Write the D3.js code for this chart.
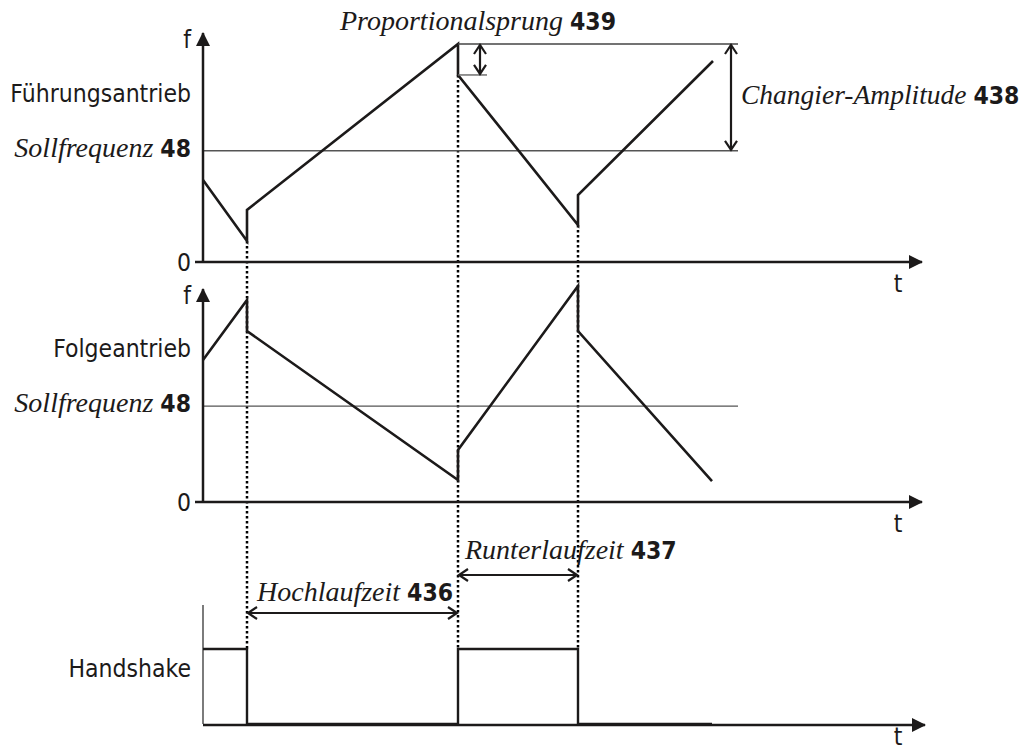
<!DOCTYPE html>
<html>
<head>
<meta charset="utf-8">
<script src="https://cdn.jsdelivr.net/npm/d3@7"></script>
<style>
  body { margin: 0; background: #fff; }
  .sans { font-family: "DejaVu Sans Condensed", "DejaVu Sans", sans-serif; font-stretch: condensed; }
  .serif { font-family: "Liberation Serif", "DejaVu Serif", serif; font-style: italic; }
</style>
</head>
<body>
<div id="chart"></div>
<script>
// time points (same time axis for all three traces)
const tSteps = [0, 44, 44, 255, 255, 375, 375, 510];
const tFolge = [0, 44, 44, 255, 255, 375, 375, 509];
const tHand = [0, 44, 44, 255, 255, 375, 375, 509];

// frequency values (% of scale)
const fFuehrung = [37.6, 9.6, 23.9, 100, 85.8, 17.0, 30.7, 92.2];
const fFolge = [65.1, 92.7, 78.4, 10.1, 23.9, 99.1, 78.4, 9.6];
const handshake = [1, 1, 0, 0, 1, 1, 0, 0];

const sollFuehrung = 51;
const sollFolge = 44;
const tSollEnd = 535;

const switchTimes = [44, 255, 375];
const panelNames = ["Führungsantrieb", "Folgeantrieb", "Handshake"];

const width = 1024, height = 751;
const ink = "#1c1a1a";
const sansSize = 24.5, serifSize = 28;

const svg = d3.select("#chart")
    .append("svg")
    .attr("width", width)
    .attr("height", height)
    .attr("viewBox", [0, 0, width, height]);

const defs = svg.append("defs");
defs.append("marker")
    .attr("id", "axisHead")
    .attr("markerUnits", "userSpaceOnUse")
    .attr("viewBox", "0 0 14 14")
    .attr("refX", 13).attr("refY", 7)
    .attr("markerWidth", 14).attr("markerHeight", 14)
    .attr("orient", "auto")
    .append("path")
    .attr("d", "M0,0L14,7L0,14Z")
    .attr("fill", ink);

defs.append("marker")
    .attr("id", "openHead")
    .attr("markerUnits", "userSpaceOnUse")
    .attr("viewBox", "-1 -1 12 14")
    .attr("refX", 9).attr("refY", 6)
    .attr("markerWidth", 12).attr("markerHeight", 14)
    .attr("orient", "auto-start-reverse")
    .append("path")
    .attr("d", "M0,0L9,6L0,12")
    .attr("fill", "none")
    .attr("stroke", ink)
    .attr("stroke-width", 2.2);

let x = d3.scaleLinear()
    .domain([0, 720])
    .range([203, 923]);

let yTop = d3.scaleLinear().domain([0, 100]).range([262, 44]);
let yMid = d3.scaleLinear().domain([0, 100]).range([502, 284]);
let yHand = d3.scaleLinear().domain([0, 1]).range([724, 649]);

let line = (y) => d3.line()
    .x(d => x(d[0]))
    .y(d => y(d[1]));

// dotted guides at switching moments
const guideTop = [yTop(fFuehrung[1]), yTop(fFuehrung[4]), yTop(fFuehrung[5])];
svg.append("g")
    .selectAll("line")
    .data(switchTimes)
    .join("line")
    .attr("x1", d => x(d)).attr("x2", d => x(d))
    .attr("y1", (d, i) => guideTop[i])
    .attr("y2", yHand(1))
    .attr("stroke", "#000")
    .attr("stroke-width", 2.5)
    .attr("stroke-dasharray", "2.5,2.5");

function sansText(g, xp, yp, anchor, txt) {
    return g.append("text").attr("class", "sans")
        .attr("x", xp).attr("y", yp)
        .attr("text-anchor", anchor).attr("font-size", sansSize).attr("fill", ink)
        .text(txt);
}

// frequency panels
function freqPanel(y, ts, fs, soll, name, fLabelY) {
    let g = svg.append("g");

    // Sollfrequenz line
    g.append("line")
        .attr("x1", x(0)).attr("x2", x(tSollEnd))
        .attr("y1", y(soll)).attr("y2", y(soll))
        .attr("stroke", "#555").attr("stroke-width", 1.4);

    // axes
    g.append("line")
        .attr("x1", x(0)).attr("x2", x(0))
        .attr("y1", y(0)).attr("y2", fLabelY - 15)
        .attr("stroke", ink).attr("stroke-width", 2.5)
        .attr("marker-end", "url(#axisHead)");
    g.append("line")
        .attr("x1", x(0) - 8).attr("x2", x(719))
        .attr("y1", y(0)).attr("y2", y(0))
        .attr("stroke", ink).attr("stroke-width", 2.5)
        .attr("marker-end", "url(#axisHead)");

    g.append("path")
        .datum(d3.zip(ts, fs))
        .attr("fill", "none")
        .attr("stroke", ink)
        .attr("stroke-width", 2.6)
        .attr("stroke-linejoin", "miter")
        .attr("d", line(y));

    sansText(g, 191, fLabelY, "end", "f");
    sansText(g, 191, y(0) + 9, "end", "0");
    sansText(g, x(695), y(0) + 30, "middle", "t");
    sansText(g, 191, y(soll) - 49, "end", name);

    let s = g.append("text")
        .attr("x", 191).attr("y", y(soll) + 6)
        .attr("text-anchor", "end").attr("fill", ink);
    s.append("tspan").attr("class", "serif").attr("font-size", serifSize).text("Sollfrequenz ");
    s.append("tspan").attr("class", "sans").attr("font-size", sansSize).attr("font-weight", "bold").text("48");
}

freqPanel(yTop, tSteps, fFuehrung, sollFuehrung, panelNames[0], 48);
freqPanel(yMid, tFolge, fFolge, sollFolge, panelNames[1], 304);

// amplitude references
svg.append("line")
    .attr("x1", x(255)).attr("x2", x(tSollEnd))
    .attr("y1", yTop(100)).attr("y2", yTop(100))
    .attr("stroke", "#444").attr("stroke-width", 1.4);
svg.append("line")
    .attr("x1", x(255)).attr("x2", x(284))
    .attr("y1", yTop(fFuehrung[4])).attr("y2", yTop(fFuehrung[4]))
    .attr("stroke", "#666").attr("stroke-width", 1.4);

svg.append("line")
    .attr("x1", x(528)).attr("x2", x(528))
    .attr("y1", yTop(100) + 1).attr("y2", yTop(sollFuehrung) - 1)
    .attr("stroke", ink).attr("stroke-width", 2.2)
    .attr("marker-start", "url(#openHead)")
    .attr("marker-end", "url(#openHead)");
svg.append("line")
    .attr("x1", x(277)).attr("x2", x(277))
    .attr("y1", yTop(100) + 1).attr("y2", yTop(fFuehrung[4]) - 1)
    .attr("stroke", ink).attr("stroke-width", 2.2)
    .attr("marker-start", "url(#openHead)")
    .attr("marker-end", "url(#openHead)");

function label(xp, yp, italic, bold, size) {
    let t = svg.append("text").attr("x", xp).attr("y", yp).attr("fill", ink);
    t.append("tspan").attr("class", "serif").attr("font-size", size || serifSize).text(italic + " ");
    t.append("tspan").attr("class", "sans").attr("font-size", sansSize).attr("font-weight", "bold").text(bold);
}
label(340, 30, "Proportionalsprung", "439");
label(741, 104, "Changier-Amplitude", "438", 27.5);

// time spans
svg.append("line")
    .attr("x1", x(44) + 1).attr("x2", x(255) - 1)
    .attr("y1", 613).attr("y2", 613)
    .attr("stroke", ink).attr("stroke-width", 2.2)
    .attr("marker-start", "url(#openHead)")
    .attr("marker-end", "url(#openHead)");
svg.append("line")
    .attr("x1", x(255) + 1).attr("x2", x(375) - 1)
    .attr("y1", 575).attr("y2", 575)
    .attr("stroke", ink).attr("stroke-width", 2.2)
    .attr("marker-start", "url(#openHead)")
    .attr("marker-end", "url(#openHead)");
label(257, 601, "Hochlaufzeit", "436");
label(465, 559, "Runterlaufzeit", "437");

// handshake panel
svg.append("line")
    .attr("x1", x(0)).attr("x2", x(0))
    .attr("y1", 605).attr("y2", yHand(0))
    .attr("stroke", "#444").attr("stroke-width", 1.4);
svg.append("line")
    .attr("x1", x(0)).attr("x2", x(722))
    .attr("y1", yHand(0) + 1).attr("y2", yHand(0) + 1)
    .attr("stroke", ink).attr("stroke-width", 2.5)
    .attr("marker-end", "url(#axisHead)");
svg.append("path")
    .datum(d3.zip(tHand, handshake))
    .attr("fill", "none")
    .attr("stroke", ink)
    .attr("stroke-width", 2.4)
    .attr("d", line(yHand));
sansText(svg, 191, 677, "end", panelNames[2]);
sansText(svg, x(695), 745, "middle", "t");
</script>
</body>
</html>
